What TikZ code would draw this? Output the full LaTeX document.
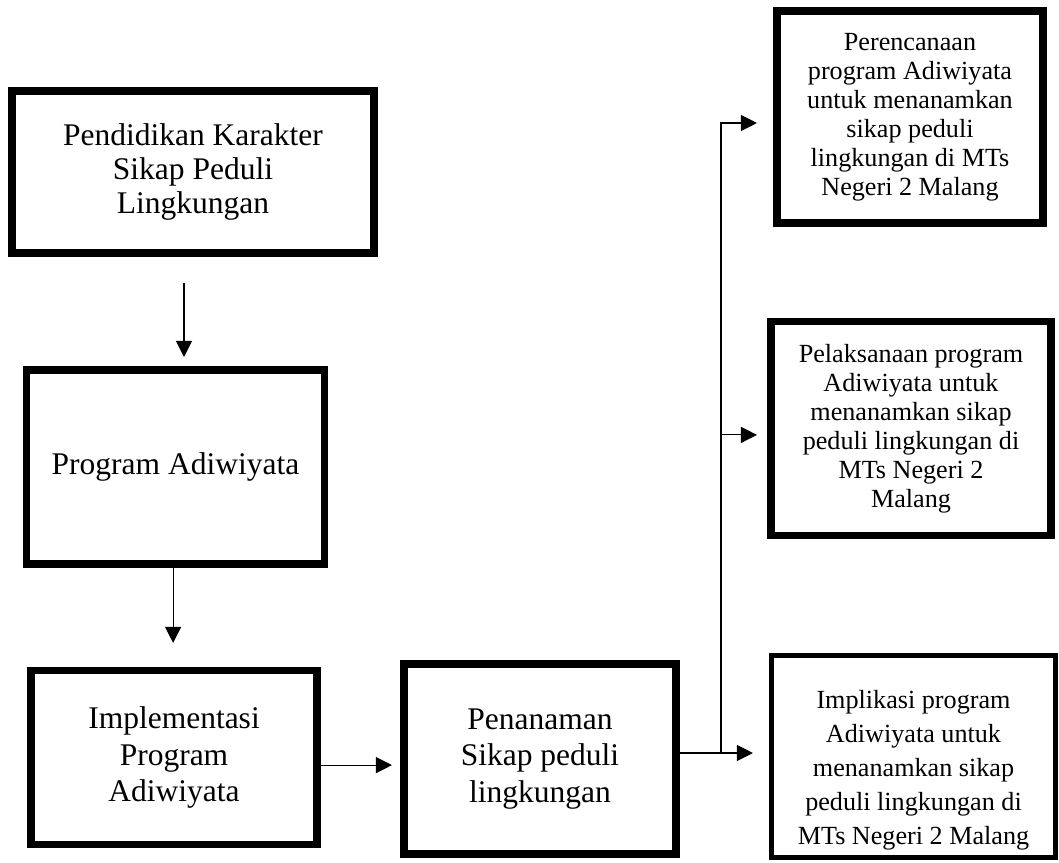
\documentclass[tikz,border=0pt]{standalone}
\usepackage{fontspec}
\setmainfont{Liberation Serif}
\usetikzlibrary{arrows.meta}

\tikzset{
  box/.style={draw, line width=0.19cm, align=center, inner sep=0pt, font=\fontsize{22.4}{24.5}\selectfont},
  rbox/.style={draw, line width=0.19cm, align=center, inner sep=0pt, font=\fontsize{18.6}{20.6}\selectfont},
  arr/.style={-{Triangle[length=0.4cm,width=0.4cm]}, line width=0.8pt},
}

\begin{document}
\begin{tikzpicture}[x=0.025cm,y=-0.025cm]
        \useasboundingbox (0,0) rectangle (1059,862);
        %% left column
        \node[box, minimum width=9.06cm, minimum height=4.06cm] (b1) at (193,172) {Pendidikan Karakter\\Sikap Peduli\\Lingkungan};
        \node[box, minimum width=7.44cm, minimum height=4.86cm] (b2) at (175.5,467) {Program Adiwiyata};
        \node[box, minimum width=7.16cm, minimum height=4.34cm, font=\fontsize{22.4}{26}\selectfont] (b3) at (174,757.5) {Implementasi\\Program\\Adiwiyata};
        \node[box, minimum width=6.81cm, minimum height=4.76cm, font=\fontsize{22.4}{26}\selectfont] (b4) at (540,759) {Penanaman\\Sikap peduli\\lingkungan};
        %% right column
        \node[rbox, minimum width=6.66cm, minimum height=5.31cm] (b5) at (910,117) {Perencanaan\\program Adiwiyata\\untuk menanamkan\\sikap peduli\\lingkungan di MTs\\Negeri 2 Malang};
        \node[rbox, minimum width=7.01cm, minimum height=5.34cm] (b6) at (911,428.5) {Pelaksanaan program\\Adiwiyata untuk\\menanamkan sikap\\peduli lingkungan di\\MTs Negeri 2\\Malang};
        \node[rbox, line width=0.125cm, minimum width=7.1cm, minimum height=5.05cm] (b7) at (913.5,756.5) {};
        \node[align=center, inner sep=0pt, font=\fontsize{18.6}{24.2}\selectfont] (t7) at ([yshift=-0.35cm]b7.center) {Implikasi program\\Adiwiyata untuk\\menanamkan sikap\\peduli lingkungan di\\MTs Negeri 2 Malang};
        %% arrows
        \draw[arr, shorten <=0.65cm, shorten >=0.225cm] ([xshift=-0.225cm]b1.south) -- ([xshift=-0.225cm]b1.south |- b2.north);
        \draw[arr, shorten >=0.6cm] ([xshift=-0.06cm]b2.south) -- ([xshift=-0.06cm]b2.south |- b3.north);
        \draw[arr, shorten >=0.2cm] ([yshift=-0.19cm]b3.east) -- ([yshift=-0.19cm]b3.east -| b4.west);
        \draw[arr, shorten >=0.4cm] ([yshift=0.15cm]b4.east) -- ([yshift=0.15cm]b4.east -| b7.west);
        \coordinate (split) at (721,753);
        \draw[arr, shorten >=0.4cm] (split) |- ([yshift=-0.15cm]b5.west);
        \draw[arr, shorten >=0.25cm] ([yshift=-0.16cm]b6.west -| split) -- ([yshift=-0.16cm]b6.west);
\end{tikzpicture}
\end{document}
